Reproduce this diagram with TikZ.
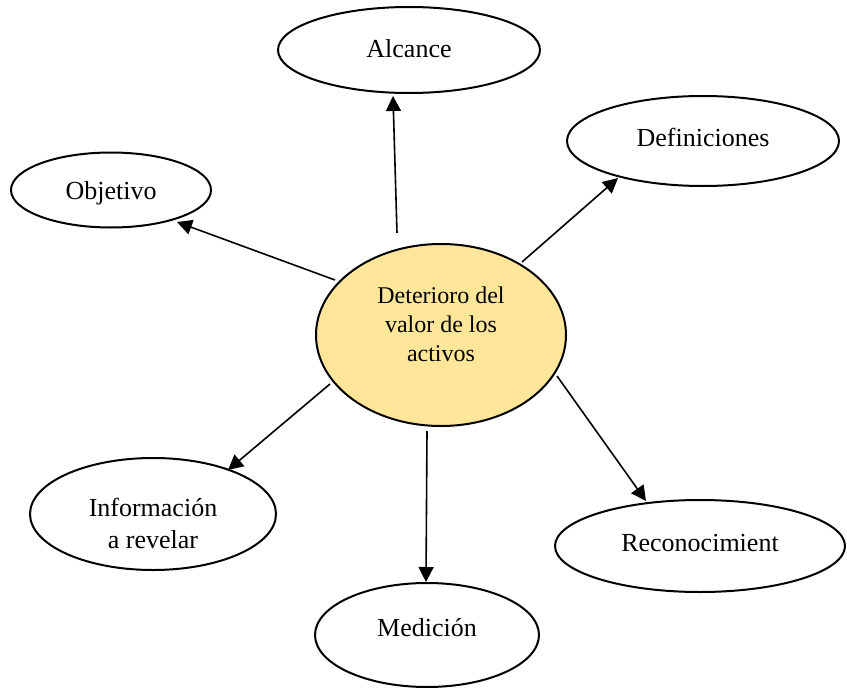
\documentclass[tikz,border=0pt]{standalone}
\usepackage{fontspec}
\setmainfont{Liberation Serif}
\usetikzlibrary{shapes.geometric,arrows.meta,calc}
\definecolor{centrefill}{HTML}{FFE699}
\begin{document}
\begin{tikzpicture}[x=1pt,y=-1pt,
  oval/.style={ellipse, draw, line width=2pt, inner sep=0pt},
  lbl/.style={font=\fontsize{26}{32}\selectfont, anchor=base, align=center, inner sep=0pt},
  clbl/.style={font=\fontsize{24}{29}\selectfont, anchor=base, align=center, inner sep=0pt},
  conn/.style={line width=1.6pt, -{Triangle[length=15pt,width=15pt]}}]
\useasboundingbox (0,0) rectangle (847,688);
% ellipses
\node[oval, fill=centrefill, minimum width=250pt, minimum height=182pt] (c) at (441,335) {};
\node[oval, minimum width=262pt, minimum height=86pt] (a) at (409,50) {};
\node[oval, minimum width=200pt, minimum height=75pt] (o) at (111,190) {};
\node[oval, minimum width=272pt, minimum height=90pt] (d) at (703,141) {};
\node[oval, minimum width=246pt, minimum height=112pt] (i) at (153,514) {};
\node[oval, minimum width=224pt, minimum height=104pt] (m) at (427,635) {};
\node[oval, minimum width=290pt, minimum height=92pt] (r) at (700,546) {};
% labels (base anchor = baseline of the last line)
\node[clbl] (ct) at (441,361) {Deterioro del\\valor de los\\activos};
\node[lbl] (at) at (409,57) {Alcance};
\node[lbl] (ot) at (111,199) {Objetivo};
\node[lbl] (dt) at (703,146) {Definiciones};
\node[lbl] (it) at (153,548) {Información\\a revelar};
\node[lbl] (mt) at (427,636) {Medición};
\node[lbl] (rt) at (700,551) {Reconocimient};
% connectors
\draw[conn] ($(c)+(-44,-102)$) -- ($(a)+(-16,46)$);
\draw[conn] ($(c)+(-106,-55)$) -- ($(o)+(66,32)$);
\draw[conn] ($(c)+(81,-73)$) -- ($(d)+(-85,37)$);
\draw[conn] ($(c)+(-111,49)$) -- ($(i)+(75,-44)$);
\draw[conn] ($(c)+(-14,96)$) -- ($(m)+(-1,-53)$);
\draw[conn] ($(c)+(116,41)$) -- ($(r)+(-54,-45)$);
\end{tikzpicture}
\end{document}
